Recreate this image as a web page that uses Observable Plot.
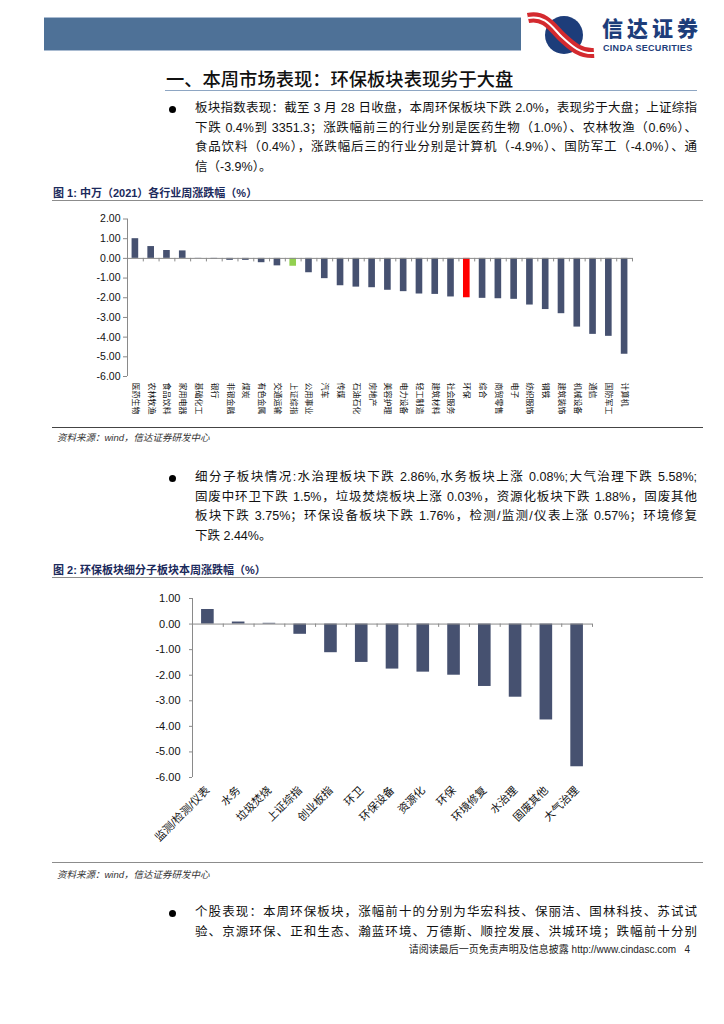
<!DOCTYPE html>
<html>
<head>
<meta charset="utf-8">
<script src="https://cdn.jsdelivr.net/npm/d3@7"></script>
<script src="https://cdn.jsdelivr.net/npm/@observablehq/plot@0.6"></script>
<style>
  html, body { margin: 0; padding: 0; background: #fff; }
  body { width: 724px; height: 1024px; position: relative; overflow: hidden;
         font-family: "Liberation Sans", "Noto Sans CJK SC", sans-serif; color: #111; }
  .abs { position: absolute; }
  .hdr { left: 44px; top: 17px; width: 477px; height: 34px; background: #4e7197;
         border-top: 1px solid #a9bbd1; border-bottom: 1px solid #a9bbd1; box-sizing: border-box; }
  .brand { left: 602px; top: 15px; font-family: "Noto Sans CJK SC"; font-weight: 900; font-size: 21px;
           letter-spacing: 4px; color: #1d3d7a; line-height: 24px; }
  .brand-en { left: 603px; top: 43px; font-family: "Liberation Sans"; font-weight: bold; font-size: 9px;
              color: #1d3d7a; letter-spacing: 0.3px; line-height: 10px; }
  .title { left: 166px; top: 66px; font-family: "Noto Sans CJK SC"; font-weight: 500; font-size: 18.3px; line-height: 24px; color: #111; }
  .uline { left: 165px; top: 90px; width: 532px; height: 0; border-top: 1px solid #8ea6c3; }
  .para { left: 195px; width: 502px; font-size: 12.5px; }
  .para .ln { height: 19.7px; line-height: 19.7px; text-align: justify; text-align-last: justify; }
  .para .last { text-align: left; text-align-last: left; }
  .bullet { width: 7px; height: 7px; border-radius: 50%; background: #000; }
  .cap { left: 53px; font-size: 11px; font-weight: bold; color: #1b2a5c; line-height: 14px; font-family: "Liberation Sans", "Noto Sans CJK SC"; }
  .rule { left: 52px; width: 651px; height: 0; }
  .src { left: 57px; font-size: 9.5px; font-style: italic; color: #333; line-height: 12px; }
  .foot { right: 34px; top: 943px; font-size: 10px; color: #222; line-height: 14px; white-space: nowrap; }
  .chart { position: absolute; }
</style>
</head>
<body>
<div class="abs hdr"></div>
<svg class="abs" style="left:524px;top:10px" width="76" height="52" viewBox="0 0 76 52">
  <circle cx="40" cy="25" r="19" fill="#1d3d7a"/>
  <path d="M4,8 C22,4 30,20 38,27 C46,34 55,44 70,43" stroke="#d42a2f" stroke-width="10" fill="none"/>
  <path d="M4,8 C22,4 30,20 38,27 C46,34 55,44 70,43" stroke="#fff" stroke-width="2" fill="none"/>
</svg>
<div class="abs brand">信达证券</div>
<div class="abs brand-en">CINDA SECURITIES</div>

<div class="abs title">一、本周市场表现：环保板块表现劣于大盘</div>
<div class="abs uline"></div>

<div class="abs bullet" style="left:169px;top:105.5px"></div>
<div class="abs para" style="top:99px">
  <div class="ln">板块指数表现：截至 3 月 28 日收盘，本周环保板块下跌 2.0%，表现劣于大盘；上证综指</div>
  <div class="ln">下跌 0.4%到 3351.3；涨跌幅前三的行业分别是医药生物（1.0%）、农林牧渔（0.6%）、</div>
  <div class="ln">食品饮料（0.4%），涨跌幅后三的行业分别是计算机（-4.9%）、国防军工（-4.0%）、通</div>
  <div class="ln last">信（-3.9%）。</div>
</div>

<div class="abs cap" style="top:186px">图 1: 中万（2021）各行业周涨跌幅（%）</div>
<div class="abs rule" style="top:200px;border-top:1.5px solid #8c8c8c"></div>
<div id="chart1" class="chart" style="left:40px;top:205px"></div>
<div class="abs rule" style="top:427px;border-top:1.5px solid #444"></div>
<div class="abs src" style="top:432px">资料来源：wind，信达证券研发中心</div>

<div class="abs bullet" style="left:169px;top:474.5px"></div>
<div class="abs para" style="top:468px">
  <div class="ln">细分子板块情况:水治理板块下跌 2.86%,水务板块上涨 0.08%;大气治理下跌 5.58%;</div>
  <div class="ln">固废中环卫下跌 1.5%，垃圾焚烧板块上涨 0.03%，资源化板块下跌 1.88%，固废其他</div>
  <div class="ln">板块下跌 3.75%；环保设备板块下跌 1.76%，检测/监测/仪表上涨 0.57%；环境修复</div>
  <div class="ln last">下跌 2.44%。</div>
</div>

<div class="abs cap" style="top:563px">图 2: 环保板块细分子板块本周涨跌幅（%）</div>
<div class="abs rule" style="top:577px;border-top:1.5px solid #8c8c8c"></div>
<div id="chart2" class="chart" style="left:40px;top:580px"></div>
<div class="abs rule" style="top:862px;border-top:1.5px solid #8c8c8c"></div>
<div class="abs src" style="top:869px">资料来源：wind，信达证券研发中心</div>

<div class="abs bullet" style="left:169px;top:909.5px"></div>
<div class="abs para" style="top:903px">
  <div class="ln">个股表现：本周环保板块，涨幅前十的分别为华宏科技、保丽洁、国林科技、苏试试</div>
  <div class="ln">验、京源环保、正和生态、瀚蓝环境、万德斯、顺控发展、洪城环境；跌幅前十分别</div>
</div>

<div class="abs foot">请阅读最后一页免责声明及信息披露 http://www.cindasc.com&nbsp;&nbsp;&nbsp;4</div>

<script>
// ---- Figure 1 data: 申万(2021) industries, weekly change (%) ----
const industries = ["医药生物","农林牧渔","食品饮料","家用电器","基础化工","银行","非银金融","煤炭","有色金属","交通运输","上证综指","公用事业","汽车","传媒","石油石化","房地产","美容护理","电力设备","轻工制造","建筑材料","社会服务","环保","综合","商贸零售","电子","纺织服饰","钢铁","建筑装饰","机械设备","通信","国防军工","计算机"];
const industryChange = [1.0,0.6,0.4,0.38,-0.01,-0.03,-0.1,-0.1,-0.22,-0.38,-0.4,-0.73,-1.03,-1.39,-1.46,-1.49,-1.62,-1.69,-1.81,-1.83,-1.96,-2.0,-2.03,-2.05,-2.08,-2.37,-2.6,-2.81,-3.49,-3.86,-3.96,-4.87];
const yTicks1 = [2,1,0,-1,-2,-3,-4,-5,-6];

// ---- Figure 2 data: environmental sub-sectors weekly change (%) ----
const subsectors = ["监测/检测/仪表","水务","垃圾焚烧","上证综指","创业板指","环卫","环保设备","资源化","环保","环境修复","水治理","固废其他","大气治理"];
const subsectorChange = [0.57,0.08,0.03,-0.4,-1.12,-1.5,-1.76,-1.88,-2.0,-2.44,-2.86,-3.75,-5.58];
const yTicks2 = [1,0,-1,-2,-3,-4,-5,-6];

const NAVY = "#465170", RED = "#ff0000", GREEN = "#92d050", AXIS = "#8a8a8a";
const FONT = '"Liberation Sans","Noto Sans CJK SC",sans-serif';

function barColor1(name) {
  if (name === "环保") return RED;
  if (name === "上证综指") return GREEN;
  return NAVY;
}

// Chart 1
{
  const w = 620, h = 220, ml = 87, mr = 28, mt = 13.5, mb = 49;
  const step = (w - ml - mr) / industries.length;
  const data = industries.map((name, i) => ({name, value: industryChange[i]}));
  const chart = Plot.plot({
    width: w, height: h, marginLeft: ml, marginRight: mr, marginTop: mt, marginBottom: mb,
    style: {fontFamily: FONT, background: "transparent", color: "#111", overflow: "visible"},
    x: {domain: industries, paddingInner: 0.58, paddingOuter: 0.29, round: false, axis: null},
    y: {domain: [-6, 2], axis: null},
    color: {type: "identity"},
    marks: [
      Plot.barY(data, {x: "name", y: "value", fill: d => barColor1(d.name)}),
      Plot.ruleX([industries[0]], {y1: -6, y2: 2, dx: -step / 2, stroke: AXIS}),
      Plot.ruleY([0], {stroke: AXIS}),
      Plot.ruleX(industries, {y1: 0, y2: -0.18, dx: step / 2, stroke: AXIS}),
      Plot.axisY(yTicks1, {anchor: "left", tickSize: 4, tickPadding: 3, tickFormat: d => d.toFixed(2),
        fontSize: 10.5, stroke: AXIS, fill: "#111", label: null}),
      Plot.axisX({anchor: "bottom", tickSize: 0, tickRotate: 90, tickPadding: 6, textAnchor: "start",
        fontSize: 8, fill: "#111", label: null})
    ]
  });
  document.getElementById("chart1").appendChild(chart);
}

// Chart 2
{
  const w = 620, h = 280, ml = 152, mr = 68, mt = 18, mb = 83;
  const step = (w - ml - mr) / subsectors.length;
  const data = subsectors.map((name, i) => ({name, value: subsectorChange[i]}));
  const chart = Plot.plot({
    width: w, height: h, marginLeft: ml, marginRight: mr, marginTop: mt, marginBottom: mb,
    style: {fontFamily: FONT, background: "transparent", color: "#111", overflow: "visible"},
    x: {domain: subsectors, paddingInner: 0.59, paddingOuter: 0.295, round: false, axis: null},
    y: {domain: [-6, 1], axis: null},
    marks: [
      Plot.barY(data, {x: "name", y: "value", fill: NAVY}),
      Plot.ruleX([subsectors[0]], {y1: -6, y2: 1, dx: -step / 2, stroke: AXIS}),
      Plot.ruleY([0], {stroke: AXIS}),
      Plot.ruleX(subsectors, {y1: 0, y2: -0.13, dx: step / 2, stroke: AXIS}),
      Plot.axisY(yTicks2, {anchor: "left", tickSize: 3, tickPadding: 9, tickFormat: d => d.toFixed(2),
        fontSize: 11, stroke: AXIS, fill: "#111", label: null}),
      Plot.axisX({anchor: "bottom", tickSize: 0, tickRotate: -45, tickPadding: 11, textAnchor: "end",
        fontSize: 11, fill: "#111", label: null})
    ]
  });
  document.getElementById("chart2").appendChild(chart);
}
</script>
</body>
</html>
